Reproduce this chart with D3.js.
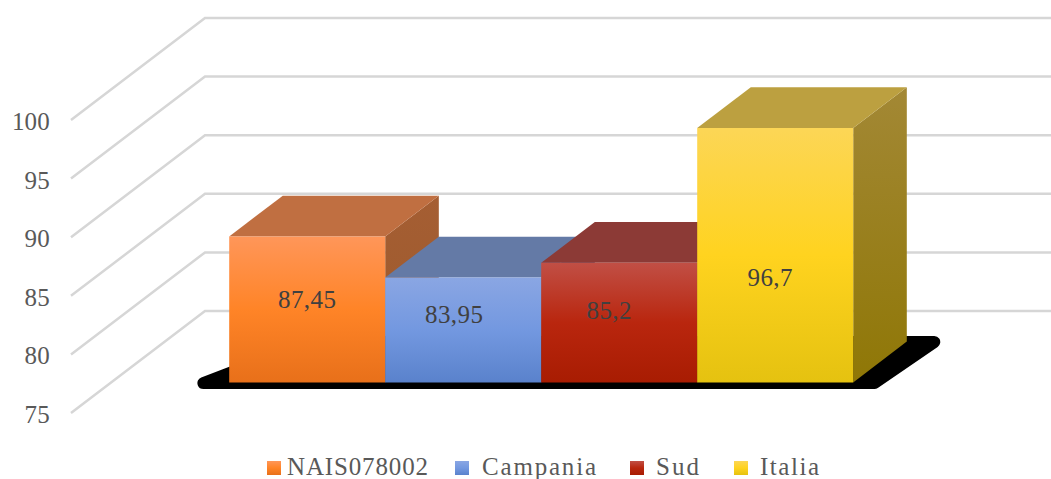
<!DOCTYPE html>
<html lang="en">
<head>
	<title>NAIS078002 3D columns</title>
	<style>
	html, body { margin: 0; background: #fff; }
	text { font-family: "Liberation Serif", serif; }
	.gridline { fill: none; stroke: #d6d6d6; stroke-width: 2.5; }
	</style>
</head>
<body>
	<svg width="1051" height="479"></svg>
	<script src="https://d3js.org/d3.v7.min.js"></script>
	<script>

	var series = ["NAIS078002", "Campania", "Sud", "Italia"];
	var values = [87.45, 83.95, 85.2, 96.7];
	var valueLabels = ["87,45", "83,95", "85,2", "96,7"];
	var yTicks = [75, 80, 85, 90, 95, 100];

	var frontColors = [
		["#ff9659", "#ff8427", "#e8701a"],
		["#8aa6e3", "#7398e0", "#5a82cc"],
		["#c14f45", "#b9260e", "#a81c02"],
		["#fcd656", "#ffd31f", "#e5c210"]
	];
	var topColors = ["#c06f41", "#647aa6", "#8c3a36", "#bca040"];
	var sideColors = [["#a55e33", "#9c5a2c"], ["#56709f", "#4a6494"], ["#7e2c24", "#6c1c10"], ["#a38835", "#8f7706"]];

	// label shift from the middle of each front face
	var labelNudgeX = [0, -9, -10, -5];
	var labelNudgeY = [-9, -15, -12, 23];

	var svg = d3.select("svg"),
		width = +svg.attr("width"),
		height = +svg.attr("height");

	var y = d3.scaleLinear().domain([75, 100]).range([413, 120]);
	var x = d3.scaleBand().domain(series).range([189, 813]);
	var depthX = d3.scaleLinear().domain([0, 1]).range([0, 134]);
	var depthY = d3.scaleLinear().domain([0, 1]).range([0, -102]);

	var near = 0.3, far = 0.7;

	function pt(px, v, d) {
		return [px + depthX(d), y(v) + depthY(d)];
	}
	function poly(points) {
		return d3.line()(points) + "Z";
	}

	var defs = svg.append("defs");
	series.forEach(function(s, i) {
		var front = defs.append("linearGradient").attr("id", "front" + i)
			.attr("x1", 0).attr("y1", 0).attr("x2", 0).attr("y2", 1);
		[0, 0.5, 1].forEach(function(o, j) {
			front.append("stop").attr("offset", o).attr("stop-color", frontColors[i][j]);
		});
		var side = defs.append("linearGradient").attr("id", "side" + i)
			.attr("x1", 0).attr("y1", 0).attr("x2", 0).attr("y2", 1);
		side.append("stop").attr("offset", 0).attr("stop-color", sideColors[i][0]);
		side.append("stop").attr("offset", 1).attr("stop-color", sideColors[i][1]);
	});

	// gridlines: side wall then back wall
	svg.append("g").selectAll("path")
		.data(yTicks)
		.enter().append("path")
		.attr("class", "gridline")
		.attr("d", function(d) {
			return d3.line()([pt(71, d, 0), pt(71, d, 1), [width + 5, y(d) + depthY(1)]]);
		});

	svg.append("g").selectAll("text")
		.data(yTicks)
		.enter().append("text")
		.attr("x", 50)
		.attr("y", function(d) { return y(d) + 10; })
		.attr("text-anchor", "end")
		.attr("font-size", 25)
		.attr("letter-spacing", 0.2)
		.attr("fill", "#595959")
		.text(function(d) { return d; });

	// floor shadow, rounded by its thick stroke
	var x0 = x.range()[0], x1 = x.range()[1];
	svg.append("path")
		.attr("d", poly([
			pt(x0 - 25, 75, 0.294),
			pt(x1 + 22, 75, 0.294),
			pt(x1 + 28, 75, 0.696),
			pt(x0 + 28, 75, 0.696)
		]))
		.attr("fill", "#000")
		.attr("stroke", "#000")
		.attr("stroke-width", 12)
		.attr("stroke-linejoin", "round");

	// columns, left to right so the later ones cover the earlier sides
	series.forEach(function(s, i) {
		var l = x(s), r = l + x.bandwidth(), v = values[i];
		var g = svg.append("g");
		g.append("path")
			.attr("d", poly([pt(r, v, near), pt(r, v, far), pt(r, 75, far), pt(r, 75, near)]))
			.attr("fill", "url(#side" + i + ")");
		g.append("path")
			.attr("d", poly([pt(l, v, near), pt(l, v, far), pt(r, v, far), pt(r, v, near)]))
			.attr("fill", topColors[i]);
		g.append("path")
			.attr("d", poly([pt(l, v, near), pt(r, v, near), pt(r, 75, near), pt(l, 75, near)]))
			.attr("fill", "url(#front" + i + ")");
	});

	// value labels
	series.forEach(function(s, i) {
		var c = pt(x(s) + x.bandwidth() / 2, (values[i] + 75) / 2, near);
		svg.append("text")
			.attr("x", c[0] + labelNudgeX[i])
			.attr("y", c[1] + labelNudgeY[i] + 8)
			.attr("text-anchor", "middle")
			.attr("font-size", 25)
			.attr("letter-spacing", 0.4)
			.attr("fill", "#404040")
			.text(valueLabels[i]);
	});

	// legend
	var legendSwatchX = [267, 455, 630, 734];
	var legendTextX = [287, 482, 656, 760];
	var legendTextW = [141, 114, 43, 59];
	var legend = svg.append("g");
	series.forEach(function(s, i) {
		legend.append("rect")
			.attr("x", legendSwatchX[i])
			.attr("y", 461)
			.attr("width", 14)
			.attr("height", 14)
			.attr("fill", "url(#front" + i + ")");
		legend.append("text")
			.attr("x", legendTextX[i])
			.attr("y", 475)
			.attr("font-size", 25)
			.attr("textLength", legendTextW[i])
			.attr("lengthAdjust", "spacing")
			.attr("fill", "#595959")
			.text(s);
	});
	</script>
</body>
</html>
